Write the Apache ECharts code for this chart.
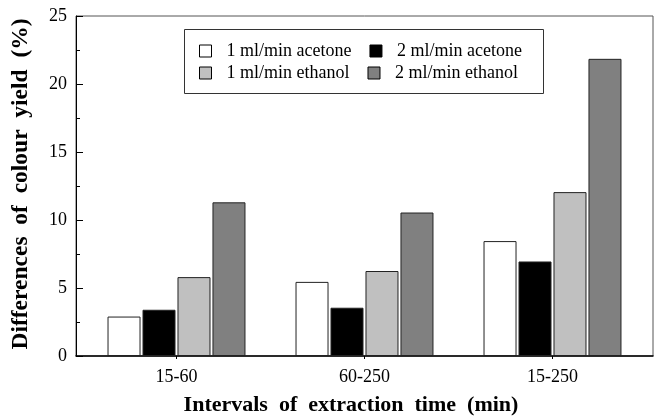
<!DOCTYPE html>
<html>
<head>
<meta charset="utf-8">
<script src="https://cdn.jsdelivr.net/npm/echarts@6/dist/echarts.min.js"></script>
<style>
html,body{margin:0;padding:0;background:#fff;}
#chart{width:654px;height:416px;}
</style>
</head>
<body>
<div id="chart"></div>
<script>
var categories = ['15-60', '60-250', '15-250'];
var acetone1 = [2.9, 5.45, 8.45];
var acetone2 = [3.4, 3.55, 6.95];
var ethanol1 = [5.8, 6.25, 12.05];
var ethanol2 = [11.3, 10.55, 21.85];
var seriesNames = ['1 ml/min acetone', '2 ml/min acetone', '1 ml/min ethanol', '2 ml/min ethanol'];
var yTicks = [0, 5, 10, 15, 20, 25];

var FONT = '"Liberation Serif", "Times New Roman", serif';
var chart = echarts.init(document.getElementById('chart'), null, {renderer: 'canvas'});

function barSeries(name, data, color) {
  return {
    name: name, type: 'bar', data: data,
    xAxisIndex: 1, yAxisIndex: 1,
    barWidth: 33, barGap: '6%',
    itemStyle: {color: color, borderColor: '#222', borderWidth: 1},
    emphasis: {disabled: true}
  };
}

var legendCommon = {
  selectedMode: false, orient: 'horizontal', padding: 0,
  itemWidth: 12, itemHeight: 12, itemGap: 18, icon: 'rect', z: 5,
  itemStyle: {borderColor: '#000', borderWidth: 1},
  textStyle: {fontFamily: FONT, fontSize: 18, color: '#000', lineHeight: 18, padding: [0, 0, 0, 10]}
};

chart.setOption({
  animation: false,
  backgroundColor: '#fff',
  graphic: [{
    type: 'rect', z: 1,
    shape: {x: 184.5, y: 29.5, width: 359, height: 64},
    style: {fill: '#fff', stroke: '#333', lineWidth: 1}
  }],
  legend: [
    Object.assign({}, legendCommon, {left: 199, top: 42, data: [seriesNames[0], seriesNames[1]]}),
    Object.assign({}, legendCommon, {left: 199, top: 64, data: [seriesNames[2], seriesNames[3]]})
  ],
  grid: [
    {left: 76, right: 1, top: 16, bottom: 60, containLabel: false, outerBoundsMode: 'none',
     show: true, borderColor: '#555', borderWidth: 1, backgroundColor: 'transparent'},
    {left: 82.5, right: 7.5, top: 16, bottom: 60, containLabel: false, outerBoundsMode: 'none'}
  ],
  xAxis: [
    {
      type: 'value', gridIndex: 0, min: 0, max: 1,
      axisLine: {show: true, lineStyle: {color: '#000', width: 1.5}},
      axisTick: {show: false}, axisLabel: {show: false}, splitLine: {show: false}
    },
    {
      type: 'category', gridIndex: 1, data: categories,
      axisLine: {show: false},
      axisTick: {show: true, alignWithLabel: true, inside: false, length: 3, lineStyle: {color: '#000'}},
      axisLabel: {fontFamily: FONT, fontSize: 18, color: '#000', margin: 12},
      splitLine: {show: false},
      name: 'Intervals  of  extraction  time  (min)',
      nameLocation: 'middle', nameGap: 38,
      nameTextStyle: {fontFamily: FONT, fontSize: 22, fontWeight: 'bold', color: '#000', padding: [0, 27, 0, 0]}
    }
  ],
  yAxis: [
    {
      type: 'value', gridIndex: 0, min: yTicks[0], max: yTicks[yTicks.length - 1], interval: 5,
      axisLine: {show: true, lineStyle: {color: '#000', width: 1}},
      axisTick: {show: true, inside: true, length: 7, lineStyle: {color: '#000'}},
      minorTick: {show: true, splitNumber: 2, length: 4, lineStyle: {color: '#000'}},
      axisLabel: {fontFamily: FONT, fontSize: 18, color: '#000', margin: 9},
      splitLine: {show: false},
      name: 'Differences  of  colour  yield  (%)',
      nameLocation: 'middle', nameGap: 43,
      nameTextStyle: {fontFamily: FONT, fontSize: 23.5, fontWeight: 'bold', color: '#000', padding: [0, 0, 0, 4]}
    },
    {
      type: 'value', gridIndex: 1, min: 0, max: 25, show: false, splitLine: {show: false}
    }
  ],
  series: [
    barSeries(seriesNames[0], acetone1, '#ffffff'),
    barSeries(seriesNames[1], acetone2, '#000000'),
    barSeries(seriesNames[2], ethanol1, '#c0c0c0'),
    barSeries(seriesNames[3], ethanol2, '#808080')
  ]
});
</script>
</body>
</html>
